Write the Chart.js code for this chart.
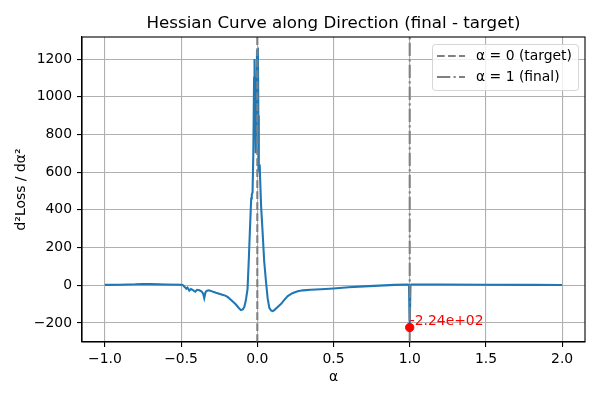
<!DOCTYPE html>
<html>
<head>
<meta charset="utf-8">
<script src="https://cdn.jsdelivr.net/npm/chart.js@4/dist/chart.umd.min.js"></script>
<style>
  html, body { margin: 0; padding: 0; background: #fff; }
  #wrap { width: 600px; height: 400px; }
</style>
</head>
<body>
<div id="wrap"><canvas id="hessChart" width="600" height="400"></canvas></div>
<script>
// curve values
const alphas = [
  -1.0, -0.9, -0.8, -0.75, -0.7, -0.6, -0.5, -0.49, -0.475, -0.466, -0.458, -0.446,
  -0.435, -0.425, -0.415, -0.407, -0.395, -0.38, -0.365, -0.355, -0.348, -0.34, -0.333,
  -0.318, -0.304, -0.29, -0.271, -0.25, -0.23, -0.21, -0.195, -0.17, -0.14, -0.12,
  -0.107, -0.095, -0.085, -0.075, -0.064, -0.055, -0.048, -0.04, -0.036, -0.031,
  -0.026, -0.021, -0.018, -0.014, -0.01, -0.005, -0.002, 0.004, 0.007, 0.01, 0.014,
  0.016, 0.018, 0.025, 0.035, 0.045, 0.057, 0.068, 0.079, 0.09, 0.1, 0.11, 0.13,
  0.155, 0.18, 0.2, 0.23, 0.265, 0.3, 0.35, 0.418, 0.5, 0.6, 0.7, 0.8, 0.9, 0.99,
  0.995, 1.0, 1.005, 1.01, 1.2, 1.5, 1.8, 2.0
];
const hessVals = [
  2, 3, 5, 7, 6, 4, 3, 2, -10, -18, -12, -28,
  -20, -24, -30, -34, -24, -27, -33, -45, -68, -38, -30,
  -27, -30, -35, -40, -45, -50, -55, -62, -80, -102, -122,
  -132, -128, -115, -80, -20, 150, 300, 460, 480, 493,
  700, 1100, 1200, 950, 700, 1100, 1245, 1250, 900, 620, 600,
  640, 580, 420, 280, 130, 20, -70, -120, -134, -137, -133, -118,
  -100, -75, -57, -42, -32, -27, -24, -21, -17, -11, -6, -2, 2, 4,
  0, -224, 0, 4, 4, 3, 2, 1
];

// marked minimum
const minAlpha = [1.0];
const minVal = [-224];

// reference lines
const refAlphas = [0, 1];
const refLabels = ['α = 0 (target)', 'α = 1 (final)'];

const xTicks = [-1.0, -0.5, 0.0, 0.5, 1.0, 1.5, 2.0];
const yTicks = [-200, 0, 200, 400, 600, 800, 1000, 1200];
const xRange = [-1.15, 2.15];
const yRange = [-301, 1317];

const FONT = "'DejaVu Sans', sans-serif";
const dashStyles = [[7.7, 3.3], [13.3, 3.3, 2.1, 3.3]];

function sciLabel(v) {
  let s = v.toExponential(2);
  let parts = s.split('e');
  let exp = parseInt(parts[1]);
  let sign = exp < 0 ? '-' : '+';
  let e = Math.abs(exp).toString().padStart(2, '0');
  return parts[0] + 'e' + sign + e;
}

const minus = s => String(s).replace('-', '\u2212');

// title, top/right spines, min label and legend
const extras = {
  id: 'extras',
  afterDatasetsDraw(chart) {
    const {ctx, chartArea: a, scales} = chart;
    ctx.save();
    // min annotation
    ctx.fillStyle = 'red';
    ctx.font = '13.9px ' + FONT;
    ctx.textAlign = 'left';
    ctx.textBaseline = 'alphabetic';
    ctx.fillText(sciLabel(minVal[0]), scales.x.getPixelForValue(minAlpha[0]), scales.y.getPixelForValue(minVal[0]) - 2);
    // spines
    ctx.strokeStyle = '#000';
    ctx.lineWidth = 1.1;
    ctx.strokeRect(a.left, a.top, a.right - a.left, a.bottom - a.top);
    // title
    ctx.fillStyle = '#000';
    ctx.font = '16.7px ' + FONT;
    ctx.textAlign = 'center';
    ctx.fillText('Hessian Curve along Direction (final - target)', (a.left + a.right) / 2, 28);
    ctx.restore();
  },
  afterDraw(chart) {
    const {ctx, chartArea: a} = chart;
    const bx = a.right - 153, by = a.top + 7, bw = 146, bh = 46;
    ctx.save();
    ctx.globalAlpha = 0.8;
    ctx.fillStyle = '#fff';
    ctx.strokeStyle = '#cccccc';
    ctx.lineWidth = 1;
    ctx.beginPath();
    ctx.roundRect(bx + 0.5, by + 0.5, bw, bh, 3);
    ctx.fill();
    ctx.stroke();
    ctx.globalAlpha = 1;
    ctx.font = '13.9px ' + FONT;
    ctx.textBaseline = 'middle';
    ctx.textAlign = 'left';
    refLabels.forEach((lab, i) => {
      const cy = by + 12 + i * 21;
      ctx.strokeStyle = 'gray';
      ctx.lineWidth = 2.08;
      ctx.setLineDash(dashStyles[i]);
      ctx.beginPath();
      ctx.moveTo(bx + 5, cy);
      ctx.lineTo(bx + 33, cy);
      ctx.stroke();
      ctx.setLineDash([]);
      ctx.fillStyle = '#000';
      ctx.fillText(lab, bx + 44, cy);
    });
    ctx.restore();
  }
};

const refSets = refAlphas.map((a, i) => ({
  type: 'line',
  label: refLabels[i],
  data: [{x: a, y: yRange[0]}, {x: a, y: yRange[1]}],
  borderColor: 'gray',
  borderWidth: 2.08,
  borderDash: dashStyles[i],
  pointRadius: 0,
  order: 1
}));

var ctx = document.getElementById('hessChart').getContext('2d');
var hessChart = new Chart(ctx, {
  type: 'line',
  data: {
    datasets: [
      {
        type: 'scatter',
        label: 'min',
        data: minAlpha.map((a, i) => ({x: a, y: minVal[i]})),
        backgroundColor: 'red',
        borderColor: 'red',
        pointRadius: 4.2,
        order: 0
      },
      ...refSets,
      {
        label: 'hessian',
        data: alphas.map((a, i) => ({x: a, y: hessVals[i]})),
        borderColor: '#1f77b4',
        borderWidth: 2.08,
        pointRadius: 0,
        tension: 0,
        order: 2
      }
    ]
  },
  options: {
    responsive: false,
    animation: false,
    devicePixelRatio: 1,
    layout: { padding: { left: 0, top: 37, right: 15, bottom: 0 } },
    plugins: {
      legend: { display: false },
      title: { display: false },
      tooltip: { enabled: false }
    },
    scales: {
      x: {
        type: 'linear',
        min: xRange[0],
        max: xRange[1],
        afterBuildTicks: s => { s.ticks = xTicks.map(v => ({value: v})); },
        afterFit: s => { s.height = 58; },
        ticks: {
          color: '#000',
          padding: 4,
          maxRotation: 0,
          font: { family: FONT, size: 13.9 },
          callback: v => minus(v.toFixed(1))
        },
        grid: { color: '#b0b0b0', lineWidth: 1.1, tickColor: '#000', tickLength: 5 },
        border: { color: '#000', width: 1.1 },
        title: { display: true, text: 'α', color: '#000', font: { family: FONT, size: 13.9 }, padding: { top: 0, bottom: 14 } }
      },
      y: {
        min: yRange[0],
        max: yRange[1],
        afterBuildTicks: s => { s.ticks = yTicks.map(v => ({value: v})); },
        afterFit: s => { s.width = 82; },
        ticks: {
          color: '#000',
          padding: 5,
          font: { family: FONT, size: 13.9 },
          callback: v => minus(v)
        },
        grid: { color: '#b0b0b0', lineWidth: 1.1, tickColor: '#000', tickLength: 5 },
        border: { color: '#000', width: 1.1 },
        title: { display: true, text: 'd²Loss / dα²', color: '#000', font: { family: FONT, size: 13.9 }, padding: { top: 13, bottom: 0 } }
      }
    }
  },
  plugins: [extras]
});
</script>
</body>
</html>
